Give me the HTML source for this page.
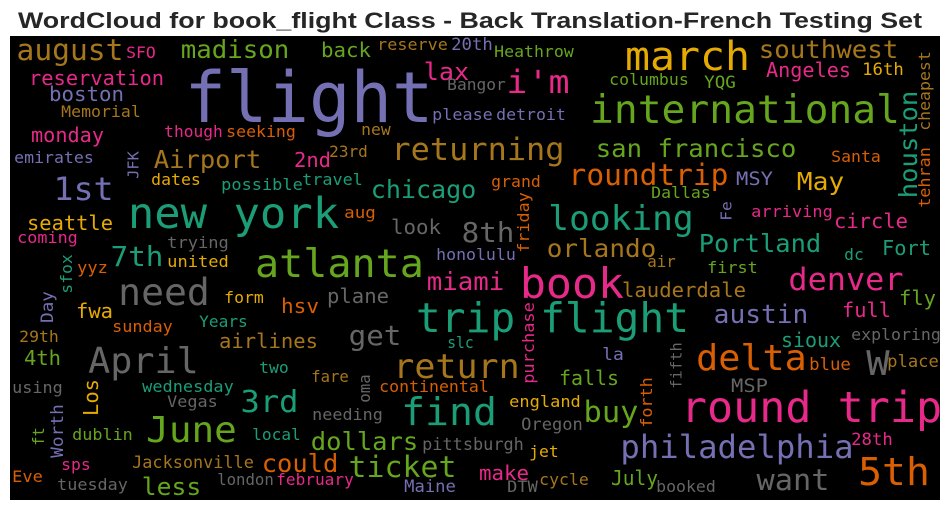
<!DOCTYPE html>
<html><head><meta charset="utf-8"><style>
html,body{margin:0;padding:0;background:#fff;width:950px;height:511px;overflow:hidden}
svg{display:block}
</style></head><body>
<svg id="chart" width="950" height="511" viewBox="0 0 950 511" xmlns="http://www.w3.org/2000/svg">
<text x="470" y="28" text-anchor="middle" font-family="Liberation Sans, Arial, sans-serif" font-weight="bold" font-size="22" textLength="904" lengthAdjust="spacingAndGlyphs" fill="#262626">WordCloud for book_flight Class - Back Translation-French Testing Set</text>
<rect x="10" y="36" width="930" height="464" fill="#000"/>
<g id="words"></g>
</svg>
<script>
// word, color code, rotated flag
const words = ["flight","august","SFO","madison","back","reserve","20th","reservation","lax","boston","Bangor","i'm","Heathrow","march","southwest","Angeles","16th","cheapest","columbus","YQG","Memorial","international","please","detroit","houston","tehran","monday","though","seeking","new","returning","Airport","2nd","23rd","emirates","JFK","1st","dates","possible","travel","san francisco","Santa","grand","roundtrip","MSY","May","chicago","new york","aug","look","8th","looking","Dallas","friday","Fe","arriving","circle","seattle","coming","trying","Portland","orlando","Fort","dc","honolulu","atlanta","7th","united","sfox","yyz","need","form","plane","miami","book","air","first","denver","lauderdale","fly","Day","fwa","hsv","sunday","Years","trip flight","full","austin","purchase","exploring","29th","airlines","get","slc","4th","April","sioux","la","delta","W","blue","place","return","fifth","falls","MSP","using","wednesday","two","fare","oma","continental","Los","3rd","Vegas","needing","find","england","buy","forth","round trip","Worth","ft","dublin","June","local","dollars","pittsburgh","Oregon","philadelphia","28th","sps","Jacksonville","could","ticket","jet","make","5th","want","Eve","tuesday","less","london","february","Maine","DTW","cycle","July","booked"];
const colorCodes = ["P","B","K","G","G","B","P","K","K","P","R","K","G","Y","B","K","Y","B","G","G","B","G","P","P","T","O","K","K","O","B","B","B","K","B","P","P","P","Y","T","T","G","O","O","O","P","Y","T","T","O","R","R","T","G","O","P","K","K","Y","K","R","T","B","T","T","P","G","T","Y","T","O","R","Y","R","K","K","B","G","K","B","G","P","Y","O","O","T","T","K","P","K","R","B","B","R","T","G","R","T","P","O","R","O","B","B","R","G","R","R","T","T","B","R","O","Y","T","R","R","T","Y","G","O","K","P","G","G","G","T","G","R","R","P","K","K","B","O","G","Y","K","O","R","O","R","G","R","K","P","R","B","G","R"];
const fontSizes = [70,29,16,25,20,16,17,20,24,20,16,32,16,40,25,20,17,16,16,17,16,39,16,16,25,16,20,16,16,16,31,25,20,16,16,15,32,16,16,16,25,16,16,29,19,25,25,43,16,20,28,34,16,16,15,16,20,20,16,16,25,25,20,16,16,39,28,16,16,16,37,16,20,25,42,16,16,31,20,20,17,20,20,16,16,41,20,26,16,16,16,20,28,16,20,36,20,17,36,34,17,17,34,15,20,19,16,16,16,16,16,16,20,30,16,16,38,16,29,16,43,17,16,16,36,16,25,17,17,32,17,16,17,25,29,16,20,38,29,16,16,24,16,16,17,16,16,20,16];
const rotated = ["cheapest","houston","tehran","JFK","friday","Fe","sfox","Day","purchase","fifth","oma","Los","forth","Worth","ft"];
// layout boxes [x1,x2,y] horizontal: ink left,right,baseline; rotated: x1,y1,y2
const layout = [[188,430,122],[18,122,60],[127,155,58],[182,288,58],[322,370,57],[378,447,50],[452,492,50],[30,163,85],[425,468,80],[50,123,101],[448,505,90],[508,568,93],[495,573,57],[627,748,70],[760,897,58],[767,850,77],[863,903,75],[918,52,130],[610,688,85],[705,735,88],[62,140,117],[592,898,123],[433,492,120],[497,565,120],[898,92,197],[918,148,207],[32,103,142],[165,222,137],[227,295,137],[362,390,135],[393,563,160],[155,260,168],[295,330,167],[330,367,157],[15,93,163],[127,152,178],[55,112,200],[152,200,185],[222,302,190],[303,362,185],[597,795,157],[832,880,162],[492,540,187],[570,727,185],[737,772,185],[798,843,190],[372,475,198],[130,337,228],[345,375,218],[392,440,234],[463,513,242],[550,692,230],[652,710,198],[517,193,252],[720,202,220],[752,832,217],[835,907,228],[28,112,230],[18,77,243],[168,228,248],[700,820,252],[548,655,257],[883,930,255],[845,863,260],[437,515,260],[257,422,277],[112,162,266],[168,228,267],[60,255,293],[78,107,273],[120,208,305],[225,263,303],[328,388,303],[428,503,290],[522,622,298],[648,675,267],[708,757,273],[790,902,290],[623,745,297],[900,935,305],[40,292,322],[77,112,318],[282,318,313],[113,172,332],[200,247,327],[418,687,332],[843,890,317],[715,807,323],[522,303,383],[852,940,340],[20,58,342],[220,317,348],[350,400,345],[448,473,348],[25,60,365],[90,197,373],[782,840,347],[603,623,360],[698,805,370],[868,888,375],[810,850,370],[888,938,367],[395,518,378],[670,343,388],[560,618,385],[732,767,392],[13,62,393],[143,233,392],[260,288,373],[312,348,382],[358,375,402],[380,488,392],[83,380,415],[242,297,412],[168,217,407],[313,382,420],[403,495,425],[510,580,407],[585,637,422],[640,378,427],[683,940,422],[50,405,457],[32,428,445],[73,132,440],[148,235,442],[253,300,440],[312,417,450],[423,523,450],[522,582,430],[622,852,458],[852,892,445],[62,90,470],[133,253,468],[263,337,472],[350,455,477],[530,558,457],[480,528,480],[860,928,485],[758,828,490],[13,42,482],[58,127,490],[143,200,495],[218,273,485],[277,353,485],[405,455,492],[508,537,492],[540,588,485],[612,657,485],[657,715,492]];
const palette = {T:"#1b9e77",O:"#d95f02",P:"#7570b3",K:"#e7298a",G:"#66a61e",Y:"#e6ab02",B:"#a6761d",R:"#666666"};
const NS = "http://www.w3.org/2000/svg";
const g = document.getElementById("words");
words.forEach(function(w, i){
  const s = fontSizes[i];
  const L = layout[i];
  const t = document.createElementNS(NS, "text");
  
  
  t.setAttribute("font-family", "DejaVu Sans Mono, Liberation Mono, monospace");
  t.setAttribute("font-size", s);
  t.setAttribute("fill", palette[colorCodes[i]]);
  t.setAttribute("lengthAdjust", "spacingAndGlyphs");
  const pad = 0.05 * s;
  if (rotated.indexOf(w) >= 0) {
    const bx = L[0] + 0.76 * s;
    const len = (L[2] - L[1]) + 2 * pad;
    t.setAttribute("x", 0);
    t.setAttribute("y", 0);
    t.setAttribute("textLength", len);
    t.setAttribute("transform", "translate(" + bx + "," + (L[2] + pad) + ") rotate(-90)");
  } else {
    t.setAttribute("x", L[0] - pad);
    t.setAttribute("y", L[2]);
    t.setAttribute("textLength", (L[1] - L[0]) + 2 * pad);
  }
  t.textContent = w;
  g.appendChild(t);
});
</script>
</body></html>
